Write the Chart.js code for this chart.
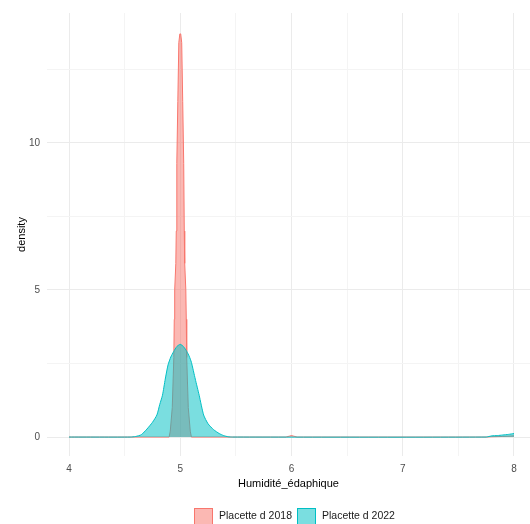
<!DOCTYPE html>
<html>
<head>
<meta charset="utf-8">
<script src="https://cdn.jsdelivr.net/npm/chart.js@4/dist/chart.umd.min.js"></script>
<style>
  body { margin: 0; background: #fff; }
  #wrap { position: relative; width: 530px; height: 524px; overflow: hidden; }
  #legend { position: absolute; left: 194px; top: 508px; font: 10.5px "Liberation Sans", Arial, sans-serif; color: #1a1a1a; white-space: nowrap; }
  .key { display: inline-block; width: 19px; height: 17px; box-sizing: border-box; border: 1px solid; vertical-align: middle; margin-right: 6px; }
  .item { display: inline-block; margin-right: 5px; }
</style>
</head>
<body>
<div id="wrap">
  <canvas id="myChart" width="530" height="524"></canvas>
  <div id="legend"></div>
</div>
<script>
const seriesNames = ["Placette d 2018", "Placette d 2022"];
const lineColors = ["#F8766D", "#00BFC4"];
const fillColors = ["rgba(248, 118, 109, 0.52)", "rgba(0, 191, 196, 0.52)"];

// density estimates
const x2018 = [4, 4.9, 4.91, 4.928, 4.942, 4.946, 4.95, 4.96, 4.964, 4.969, 4.978, 4.987, 4.996,
  5.004, 5.013, 5.022, 5.031, 5.036, 5.04, 5.05, 5.054, 5.058, 5.072, 5.09, 5.1,
  5.95, 5.98, 6.0, 6.02, 6.05, 7.75, 7.8, 7.9, 8.0];
const y2018 = [0, 0, 0.2, 1.0, 2.7, 4.0, 5.0, 5.9, 7.0, 9.3, 11.4, 13.4, 13.7,
  13.7, 13.4, 11.4, 9.3, 7.0, 5.9, 5.0, 4.0, 2.7, 1.0, 0.2, 0,
  0, 0.03, 0.05, 0.03, 0, 0, 0.01, 0.02, 0.04];

const x2022 = [4, 4.55, 4.6, 4.65, 4.7, 4.75, 4.79, 4.815, 4.84, 4.865, 4.89, 4.915, 4.94, 4.97, 5.0,
  5.03, 5.06, 5.08, 5.1, 5.135, 5.17, 5.21, 5.25, 5.3, 5.35, 5.39, 5.43, 5.47,
  7.75, 7.8, 7.85, 7.9, 7.95, 8.0];
const y2022 = [0, 0, 0.02, 0.08, 0.27, 0.5, 0.75, 1.1, 1.42, 1.97, 2.45, 2.72, 2.9, 3.08, 3.15,
  3.07, 2.9, 2.75, 2.54, 1.97, 1.42, 0.75, 0.45, 0.25, 0.12, 0.05, 0.01, 0,
  0, 0.04, 0.05, 0.07, 0.09, 0.12];

const xTicks = [4, 4.5, 5, 5.5, 6, 6.5, 7, 7.5, 8];
const yTicks = [0, 2.5, 5, 7.5, 10, 12.5];

const toPoints = (xs, ys) => xs.map((x, i) => ({ x: x, y: ys[i] }));

const font = "'Liberation Sans', Arial, sans-serif";
const gridColor = (ctx) => {
  const v = ctx.tick ? ctx.tick.value : 0;
  return Number.isInteger(v / 5) || (ctx.scale.axis === "x" && Number.isInteger(v)) ? "#EBEBEB" : "#F4F4F4";
};

const config = {
  type: "line",
  data: {
    datasets: [
      {
        label: seriesNames[0],
        data: toPoints(x2018, y2018),
        borderColor: lineColors[0],
        backgroundColor: fillColors[0],
        borderWidth: 1,
        pointRadius: 0,
        fill: "origin",
        tension: 0,
        order: 2,
      },
      {
        label: seriesNames[1],
        data: toPoints(x2022, y2022),
        borderColor: lineColors[1],
        backgroundColor: fillColors[1],
        borderWidth: 1,
        pointRadius: 0,
        fill: "origin",
        tension: 0.2,
        order: 1,
      },
    ],
  },
  options: {
    responsive: false,
    animation: false,
    layout: { padding: { left: 0, right: 0, top: 12, bottom: 30 } },
    plugins: { legend: { display: false }, tooltip: { enabled: false } },
    scales: {
      x: {
        type: "linear",
        min: 3.802,
        max: 8.144,
        afterBuildTicks: (scale) => {
          scale.ticks = xTicks.map((v) => ({ value: v }));
        },
        afterFit: (scale) => {
          scale.height = 38;
        },
        border: { display: false },
        grid: { color: gridColor, drawTicks: false, lineWidth: 1 },
        ticks: {
          padding: 7,
          color: "#4D4D4D",
          font: { family: font, size: 10 },
          maxRotation: 0,
          autoSkip: false,
          callback: (v) => (Number.isInteger(v) ? String(v) : ""),
        },
        title: {
          display: true,
          text: "Humidité_édaphique",
          color: "#000",
          font: { family: font, size: 11 },
          padding: { top: 0, bottom: 3 },
        },
      },
      y: {
        min: -0.644,
        max: 14.41,
        afterBuildTicks: (scale) => {
          scale.ticks = yTicks.map((v) => ({ value: v }));
        },
        afterFit: (scale) => {
          scale.width = 47;
        },
        border: { display: false },
        grid: { color: gridColor, drawTicks: false, lineWidth: 1 },
        ticks: {
          padding: 7,
          color: "#4D4D4D",
          font: { family: font, size: 10 },
          autoSkip: false,
          callback: (v) => (Number.isInteger(v / 5) ? String(v) : ""),
        },
        title: {
          display: true,
          text: "density",
          color: "#000",
          font: { family: font, size: 11 },
          padding: { top: 15, bottom: 0 },
        },
      },
    },
  },
};

new Chart(document.getElementById("myChart"), config);

// legend under the plot, as ggplot puts it
let list = ``;
seriesNames.map((name, i) => {
  list += `<span class="item"><span class="key" style="background:${fillColors[i]};border-color:${lineColors[i]}"></span>${name}</span>`;
});
document.getElementById("legend").innerHTML = list;
</script>
</body>
</html>
